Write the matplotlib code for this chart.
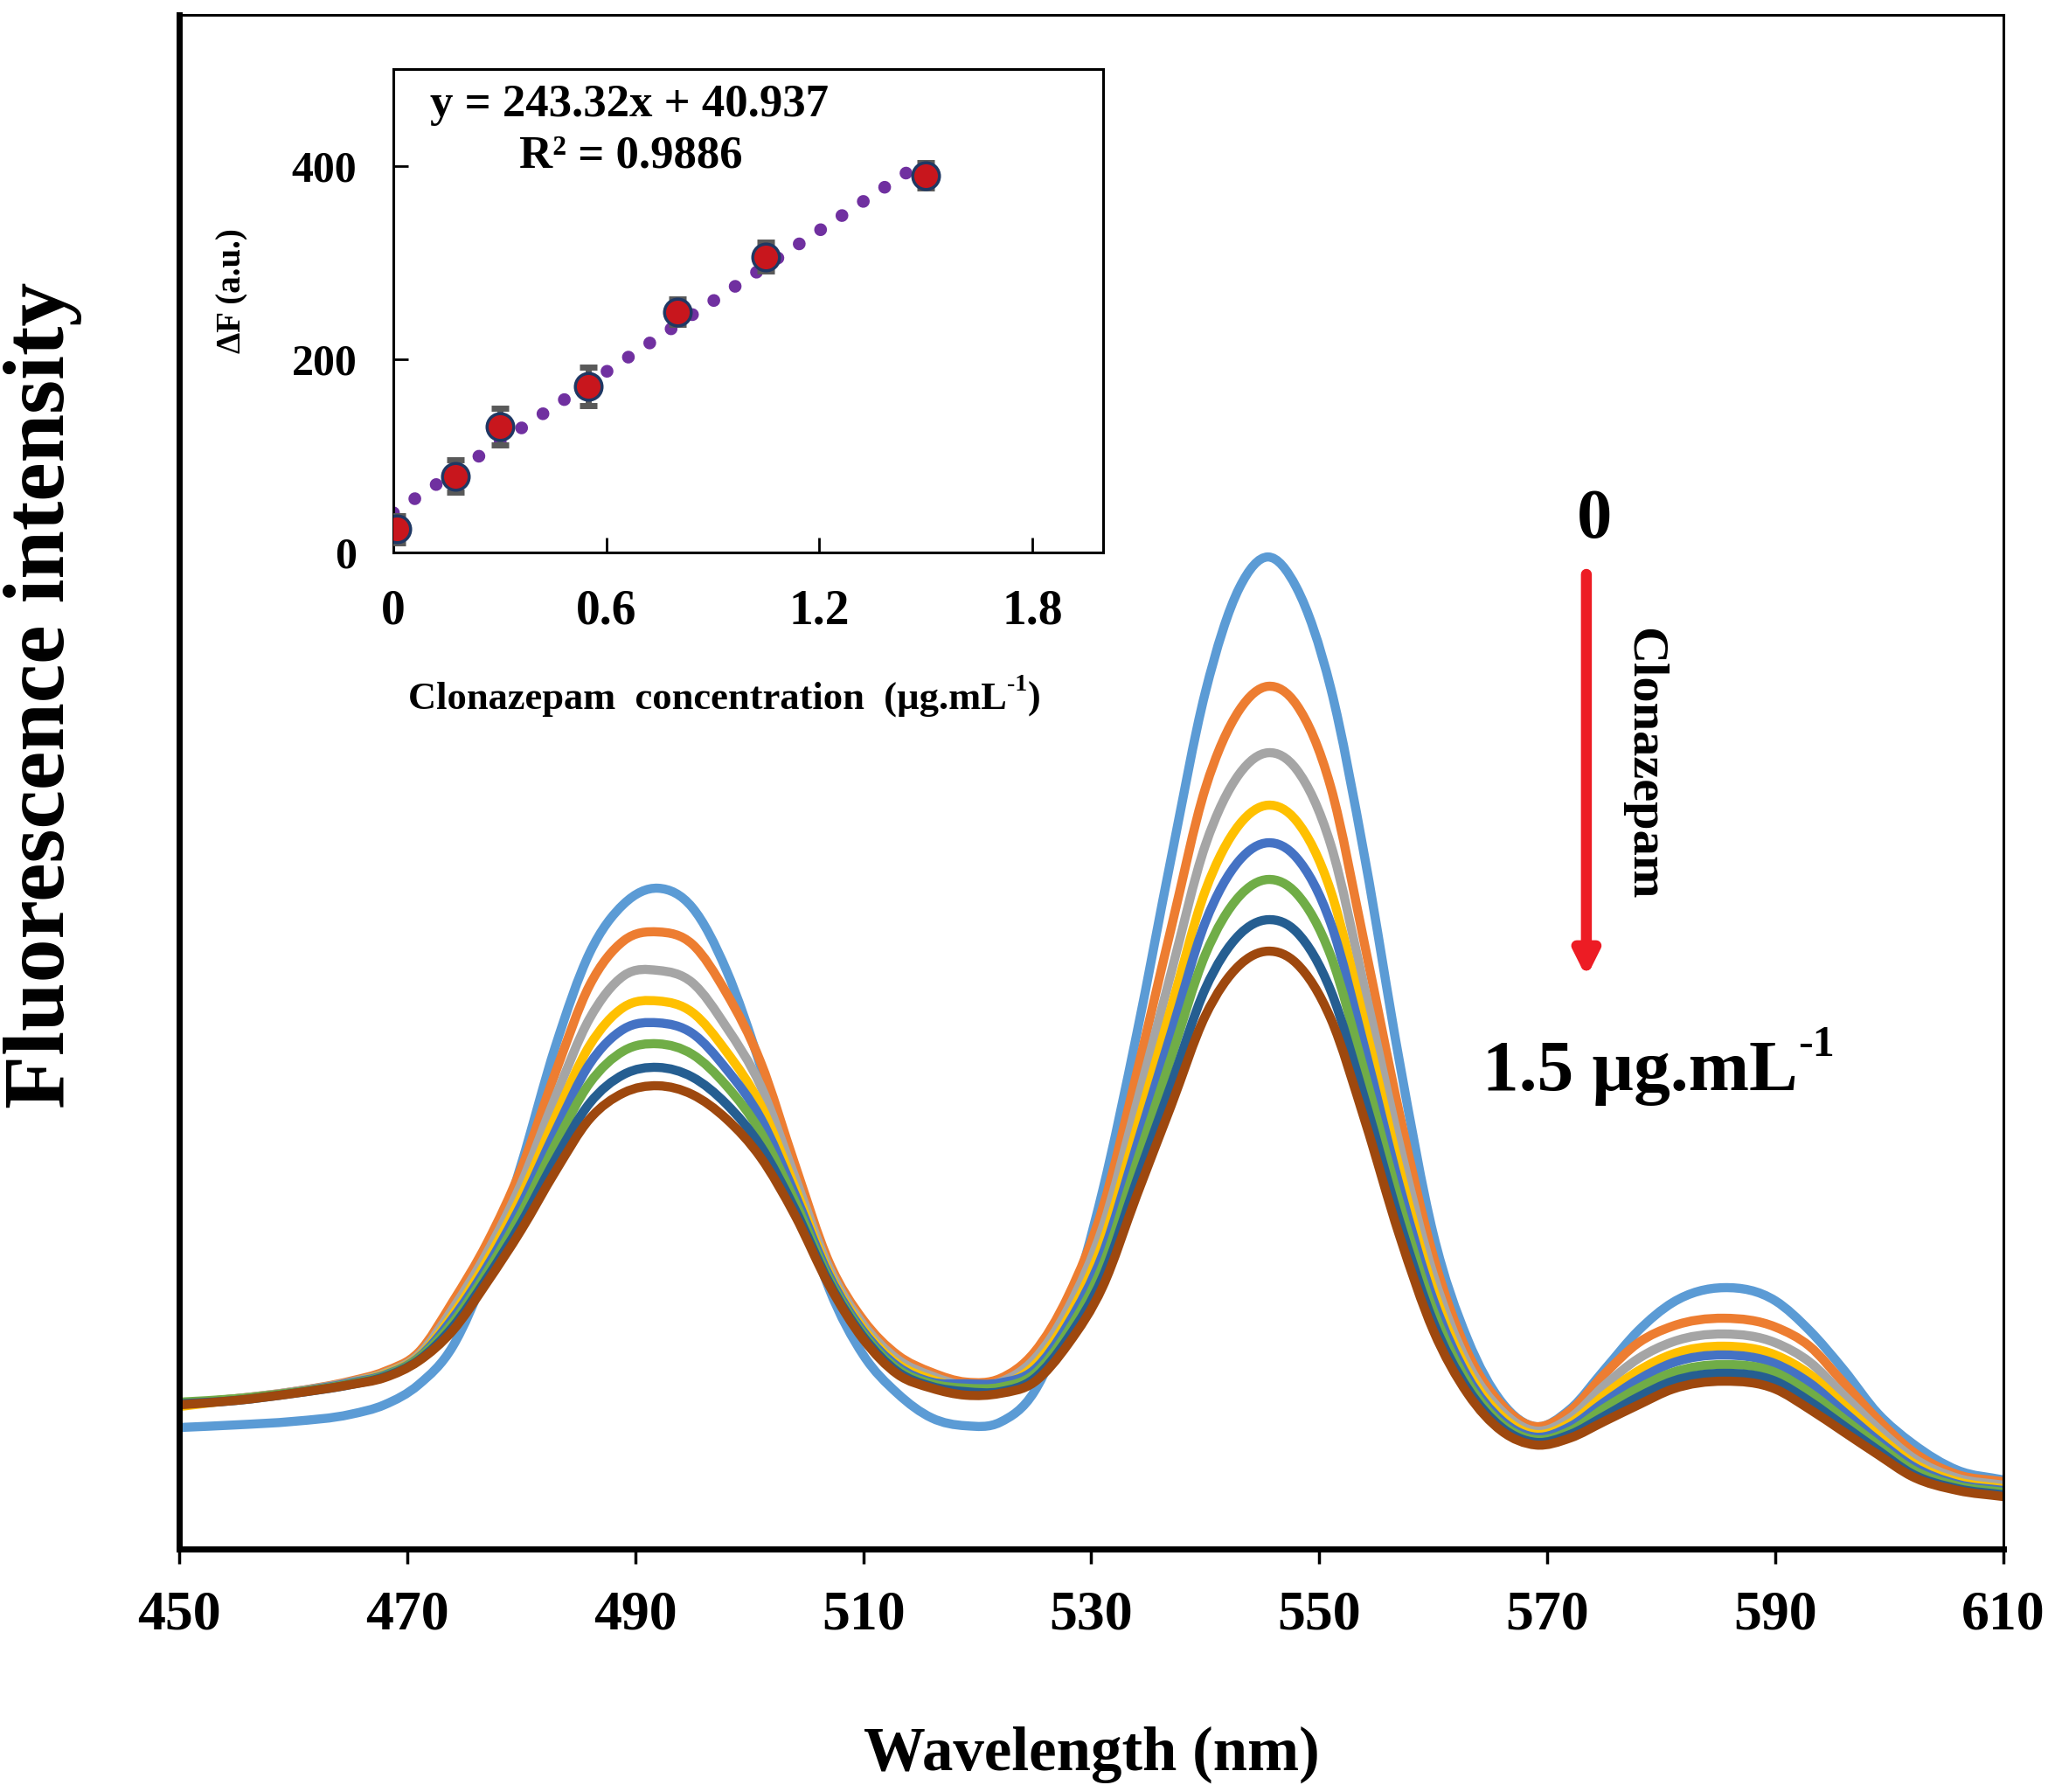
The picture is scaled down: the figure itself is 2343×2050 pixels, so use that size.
import numpy as np
import matplotlib
matplotlib.use("Agg")
import matplotlib.pyplot as plt
from matplotlib.path import Path
from matplotlib.patches import PathPatch

# Espectros de fluorescencia (unidades arbitrarias)
wavelength = [450, 455, 460, 465, 468, 471, 474, 477, 480, 483, 486, 489, 492, 495,
              498, 501, 504, 507, 510, 513, 516, 519, 522, 525, 528, 531, 534, 537,
              540, 543, 545.5, 548, 551, 554, 557, 560, 563, 566, 569, 572, 575, 578,
              581, 585.5, 590, 593, 596, 599, 602, 606, 610]

f_blank = [139, 142, 146, 154, 165, 188, 232, 320, 440, 575, 682, 738, 756, 734,
           662, 552, 418, 298, 222, 178, 150, 141, 145, 180, 270, 410, 590, 790,
           980, 1100, 1135, 1100, 985, 790, 560, 360, 240, 168, 140, 160, 205, 250,
           282, 299, 284, 250, 205, 155, 121, 90, 79]
f_orange = [166, 172, 180, 192, 203, 225, 283, 350, 435, 545, 645, 696, 706, 692,
            636, 557, 440, 328, 262, 222, 202, 191, 195, 225, 290, 390, 545, 710,
            870, 960, 987, 966, 872, 690, 500, 335, 225, 165, 140, 158, 200, 236,
            255, 264, 254, 232, 190, 148, 112, 85, 77]
f_gray = [166, 172, 180, 191, 201, 222, 275, 339, 418, 517, 607, 656, 662, 648,
          597, 530, 426, 322, 257, 217, 198, 187, 191, 217, 276, 368, 510, 659,
          805, 887, 911, 892, 806, 640, 465, 314, 213, 158, 135, 150, 187, 218,
          237, 246, 236, 214, 176, 138, 105, 81, 73]
f_gold = [163, 171, 179, 190, 200, 220, 268, 330, 404, 494, 576, 620, 627, 614,
          569, 508, 414, 316, 252, 212, 194, 185, 187, 210, 265, 350, 482, 619,
          753, 829, 851, 833, 753, 600, 437, 297, 204, 152, 131, 144, 176, 204,
          223, 232, 222, 200, 165, 130, 99, 77, 69]
f_blue = [166, 171, 179, 190, 199, 219, 264, 323, 394, 478, 555, 595, 602, 590,
          549, 493, 406, 313, 249, 209, 191, 189, 190, 205, 258, 337, 462, 590,
          717, 788, 808, 791, 716, 572, 417, 285, 197, 147, 128, 140, 168, 194,
          213, 222, 212, 190, 157, 124, 95, 74, 67]
f_green = [168, 172, 179, 189, 198, 218, 259, 317, 384, 463, 533, 570, 578, 566,
           530, 477, 398, 309, 246, 206, 189, 184, 185, 200, 250, 324, 443, 562,
           680, 747, 766, 750, 679, 544, 398, 273, 191, 143, 125, 135, 161, 184,
           202, 211, 202, 179, 149, 119, 91, 72, 65]
f_navy = [166, 170, 178, 188, 197, 216, 254, 310, 373, 446, 510, 543, 551, 540,
          509, 461, 389, 305, 243, 203, 186, 180, 180, 195, 242, 311, 422, 531,
          641, 703, 720, 706, 639, 514, 377, 260, 184, 139, 122, 131, 152, 174,
          192, 201, 192, 169, 141, 113, 86, 69, 62]
f_brown = [165, 170, 178, 188, 196, 215, 250, 305, 365, 432, 492, 522, 530, 520,
           492, 448, 382, 302, 240, 200, 184, 176, 178, 191, 235, 300, 405, 507,
           610, 668, 684, 670, 607, 490, 360, 250, 178, 135, 119, 127, 146, 165,
           183, 192, 183, 160, 134, 108, 83, 67, 60]

colores = ["#5B9BD5", "#ED7D31", "#A5A5A5", "#FFC000", "#4472C4", "#70AD47", "#255E91", "#9E480E"]
espectros = [f_blank, f_orange, f_gray, f_gold, f_blue, f_green, f_navy, f_brown]

# Curva de calibración (inserto)
conc = [0.01, 0.175, 0.30, 0.55, 0.80, 1.05, 1.50]
delta_f = [24, 79, 130, 172, 249, 306, 390]
error_f = [14, 17, 19, 20, 13, 15, 13]
pendiente = 243.32
intercepto = 40.937


# Línea suavizada (curva de Bézier que pasa por los puntos, como Excel)
def linea_suave(x, y):
    x = np.asarray(x, float)
    y = np.asarray(y, float)
    h = np.diff(x)
    s = np.diff(y) / h
    m = np.empty_like(y)
    m[0], m[-1] = s[0], s[-1]
    m[1:-1] = (h[:-1] * s[1:] + h[1:] * s[:-1]) / (h[:-1] + h[1:])
    verts = [(x[0], y[0])]
    codes = [Path.MOVETO]
    for i in range(len(x) - 1):
        d = h[i] / 3
        verts += [(x[i] + d, y[i] + m[i] * d), (x[i + 1] - d, y[i + 1] - m[i + 1] * d),
                  (x[i + 1], y[i + 1])]
        codes += [Path.CURVE4] * 3
    return Path(verts, codes)


plt.rcParams["font.family"] = ["Liberation Serif", "DejaVu Serif"]
plt.rcParams["font.weight"] = "bold"

fig = plt.figure(figsize=(23.43, 20.5), dpi=100)

# Gráfico principal
ax = fig.add_axes([0.0875, 0.1356, 0.8907, 0.856])
for y, c in zip(espectros, colores):
    ax.add_patch(PathPatch(linea_suave(wavelength, y), facecolor="none", edgecolor=c,
                           linewidth=7.5, capstyle="round", joinstyle="round"))

ax.set_xlim(450, 610)
ax.set_ylim(0, 1755)
ax.set_xticks(range(450, 611, 20))
ax.set_yticks([])
ax.tick_params(axis="x", direction="out", length=12, width=2.5, pad=22, labelsize=46)
for lab in ax.get_xticklabels():
    lab.set_fontweight("bold")
ax.spines["left"].set_linewidth(5)
ax.spines["bottom"].set_linewidth(5)
ax.spines["top"].set_linewidth(2.2)
ax.spines["right"].set_linewidth(2.2)

fig.text(0.533, 0.021, "Wavelength (nm)", ha="center", va="center", fontsize=51, fontweight="bold")
fig.text(0.0209, 0.6122, "Fluorescence intensity", ha="center", va="center", rotation=90,
         fontsize=72, fontweight="bold")

# Anotaciones: flecha de concentración
fig.text(0.7785, 0.7093, "0", ha="center", va="center", fontsize=58, fontweight="bold")
ax.annotate("", xy=(0.7746, 0.4546), xytext=(0.7746, 0.6795), xycoords="figure fraction",
            textcoords="figure fraction",
            arrowprops=dict(arrowstyle="-|>,head_length=1.6,head_width=0.8", color="#ED1C24",
                            linewidth=9, shrinkA=0, shrinkB=0))
fig.text(0.8024, 0.5737, "Clonazepam", ha="center", va="center", rotation=270,
         fontsize=42, fontweight="bold")
t15 = fig.text(0.7239, 0.401, "1.5 µg.mL", ha="left", va="center", fontsize=60, fontweight="bold")
ax.annotate("-1", xy=(1.0, 0.62), xycoords=t15, ha="left", va="bottom", fontsize=36,
            fontweight="bold", annotation_clip=False)

# Inserto con la curva de calibración
ins = fig.add_axes([0.1921, 0.6917, 0.3466, 0.2698])
x_fit = np.array([0.0, 1.5])
ins.plot(x_fit, pendiente * x_fit + intercepto, color="#7030A0", linewidth=10.5,
         linestyle=(0, (0.01, 2.0)), dash_capstyle="round", zorder=2)
ins.errorbar(conc, delta_f, yerr=error_f, fmt="none", ecolor="#595959", elinewidth=5,
             capsize=7, capthick=5, zorder=3)
ins.plot(conc, delta_f, "o", markersize=22, markerfacecolor="#C8161D", markeredgecolor="#1F3864",
         markeredgewidth=2.5, zorder=4)
ins.set_xlim(0, 2.0)
ins.set_ylim(0, 500)
ins.set_xticks([0, 0.6, 1.2, 1.8])
ins.set_xticklabels(["0", "0.6", "1.2", "1.8"])
ins.set_yticks([0, 200, 400])
ins.tick_params(axis="x", direction="in", length=12, width=2, pad=30, labelsize=40)
ins.tick_params(axis="y", direction="in", length=12, width=2, pad=30, labelsize=36)
for lab in ins.get_xticklabels() + ins.get_yticklabels():
    lab.set_fontweight("bold")
for s in ins.spines.values():
    s.set_linewidth(2.2)

fig.text(0.1135, 0.8376, "ΔF (a.u.)", ha="center", va="center", rotation=90, fontsize=28, fontweight="bold")
t_cx = fig.text(0.1995, 0.6098, "Clonazepam  concentration  (µg.mL", ha="left", va="center",
                fontsize=32, fontweight="bold")
t_sup = ax.annotate("-1", xy=(1.0, 0.6), xycoords=t_cx, ha="left", va="bottom", fontsize=20,
                    fontweight="bold", annotation_clip=False)
ax.annotate(")", xy=(1.0, 0.0), xycoords=(t_sup, t_cx), ha="left", va="bottom", fontsize=32,
            fontweight="bold", annotation_clip=False)
fig.text(0.3073, 0.9415, "y = 243.32x + 40.937", ha="center", va="center", fontsize=38, fontweight="bold")
fig.text(0.3082, 0.9127, "R² = 0.9886", ha="center", va="center", fontsize=38, fontweight="bold")

fig.savefig("out.png", dpi=100)
